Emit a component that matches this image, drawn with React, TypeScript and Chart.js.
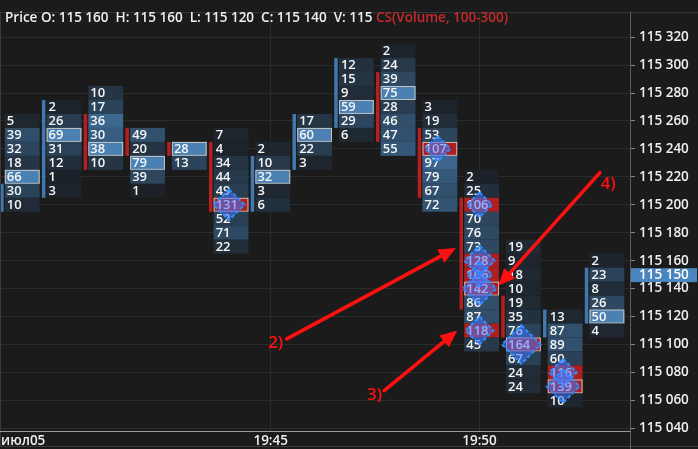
import React, { useEffect, useRef } from 'react';
import { Chart, registerables } from 'chart.js';
Chart.register(...registerables);

// ---------- data ----------
const times = ['19:39', '19:40', '19:41', '19:42', '19:43', '19:44', '19:45', '19:46', '19:47', '19:48', '19:49', '19:50', '19:51', '19:52', '19:53'];
// highest price level of each cluster (rows go down by rowStep)
const topPrices = [115260, 115270, 115280, 115250, 115240, 115250, 115240, 115260, 115300, 115310, 115270, 115220, 115170, 115120, 115160];
const volumes: number[][] = [
  [5, 39, 32, 18, 66, 30, 10],
  [2, 26, 69, 31, 12, 1, 3],
  [10, 17, 36, 30, 38, 10],
  [49, 20, 79, 39, 1],
  [28, 13],
  [7, 4, 34, 44, 49, 131, 52, 71, 22],
  [2, 10, 32, 3, 6],
  [17, 60, 22, 3],
  [12, 15, 9, 59, 29, 6],
  [2, 24, 39, 75, 28, 46, 47, 55],
  [3, 19, 53, 107, 97, 79, 67, 72],
  [2, 25, 106, 70, 76, 73, 128, 106, 142, 86, 87, 118, 45],
  [19, 9, 18, 10, 19, 35, 76, 164, 67, 24, 24],
  [13, 87, 89, 60, 116, 139, 10],
  [2, 23, 8, 26, 50, 4],
];
const opens = [115200, 115210, 115260, 115250, 115240, 115240, 115200, 115230, 115260, 115290, 115250, 115200, 115130, 115110, 115120];
const closes = [115210, 115270, 115230, 115240, 115240, 115200, 115230, 115260, 115300, 115250, 115210, 115130, 115110, 115120, 115150];
const rowStep = 10;
const highlightMin = 100;
const highlightMax = 300;

const priceTicks = [115040, 115060, 115080, 115100, 115120, 115140, 115160, 115180, 115200, 115220, 115240, 115260, 115280, 115300, 115320];
const timeTicks = ['19:45', '19:50'];
const dateLabel = 'июл05';
const lastPrice = 115150;
const viewStart = '19:38:32.5';
const viewEnd = '19:53:36.2';
const priceMin = 115038.1;
const priceMax = 115337.9;

const headerText = 'Price O: 115 160  H: 115 160  L: 115 120  C: 115 140  V: 115 ';
const studyText = 'CS(Volume, 100-300)';

// annotations (time, price)
const arrowLabels = ['2)', '3)', '4)'];
const arrowFromTimes = ['19:45:23', '19:47:43', '19:52:53'];
const arrowFromPrices = [115104, 115067, 115223];
const arrowToTimes = ['19:49:26', '19:49:28', '19:50:27'];
const arrowToPrices = [115169, 115110, 115142];
const labelTimes = ['19:45:18', '19:47:40', '19:52:54'];
const labelPrices = [115101, 115064, 115215];
const labelAligns: CanvasTextAlign[] = ['right', 'right', 'left'];

// ---------- helpers ----------
const toMin = (s: string) => {
  const [h, m, sec] = s.split(':').map(Number);
  return h * 60 + m + (sec || 0) / 60;
};
const fmtPrice = (v: number) => `${Math.floor(v / 1000)} ${String(Math.round(v % 1000)).padStart(3, '0')}`;

const BG = '#1b1b1b';
const FONT = '"Open Sans", "Noto Sans", sans-serif';
const W = '600';
const c0 = [28, 33, 39];
const c1 = [62, 108, 150];
const cellColor = (r: number) => {
  const k = Math.max(0, Math.min(1, r));
  const c = c0.map((a, i) => Math.round(a + (c1[i] - a) * k));
  return `rgb(${c[0]},${c[1]},${c[2]})`;
};

const footprintPlugin = {
  id: 'footprint',
  beforeDraw(chart: any) {
    const { ctx, width, height } = chart;
    ctx.save();
    ctx.fillStyle = BG;
    ctx.fillRect(0, 0, width, height);
    ctx.restore();
  },
  afterDatasetsDraw(chart: any) {
    const { ctx } = chart;
    const xs = chart.scales.x;
    const ys = chart.scales.y;
    ctx.save();
    const diamonds: { x: number; y: number; r: number }[] = [];
    times.forEach((t, ci) => {
      const cx = xs.getPixelForValue(toMin(t));
      const vols = volumes[ci];
      const colMax = Math.max(...vols);
      // candle body
      const o = opens[ci];
      const c = closes[ci];
      const hi = Math.max(o, c) + rowStep / 2;
      const lo = Math.min(o, c) - rowStep / 2;
      const yTop = ys.getPixelForValue(hi);
      const yBot = ys.getPixelForValue(lo);
      ctx.fillStyle = c > o ? '#4178ad' : '#b3201f';
      ctx.fillRect(cx - 20, yTop, 3.5, yBot - yTop);
      // cells
      vols.forEach((v, ri) => {
        const p = topPrices[ci] - ri * rowStep;
        const y0 = ys.getPixelForValue(p + rowStep / 2);
        const y1 = ys.getPixelForValue(p - rowStep / 2);
        const left = cx - 15.3;
        const w = 34.8;
        const isPoc = v === colMax;
        const isHi = v >= highlightMin && v <= highlightMax;
        if (isHi) ctx.fillStyle = '#b01f1f';
        else if (isPoc) ctx.fillStyle = '#4a80b2';
        else ctx.fillStyle = cellColor(v / colMax);
        ctx.fillRect(left, y0, w, y1 - y0);
        if (isPoc) {
          ctx.strokeStyle = '#c4c4c4';
          ctx.lineWidth = 1;
          ctx.strokeRect(left + 0.5, y0 + 0.5, w - 1, y1 - y0 - 1);
        }
        ctx.fillStyle = '#f6f6f6';
        ctx.font = `${W} 13px ${FONT}`;
        ctx.textBaseline = 'middle';
        ctx.textAlign = 'left';
        ctx.fillText(String(v), left + 2, (y0 + y1) / 2 + 0.5);
        if (isHi) diamonds.push({ x: cx, y: ys.getPixelForValue(p), r: v * 0.118 });
      });
    });
    diamonds.forEach((d) => {
      ctx.beginPath();
      ctx.moveTo(d.x, d.y - d.r);
      ctx.lineTo(d.x + d.r, d.y);
      ctx.lineTo(d.x, d.y + d.r);
      ctx.lineTo(d.x - d.r, d.y);
      ctx.closePath();
      ctx.fillStyle = 'rgba(66,118,255,0.55)';
      ctx.fill();
      ctx.setLineDash([4, 2]);
      ctx.lineWidth = 2;
      ctx.strokeStyle = '#2f8cff';
      ctx.stroke();
      ctx.setLineDash([]);
    });
    ctx.restore();
  },
  afterDraw(chart: any) {
    const { ctx, width, height, chartArea } = chart;
    const xs = chart.scales.x;
    const ys = chart.scales.y;
    ctx.save();
    // frame
    ctx.strokeStyle = '#3a3a3a';
    ctx.lineWidth = 1;
    ctx.beginPath();
    ctx.moveTo(0, chartArea.top + 0.5);
    ctx.lineTo(width, chartArea.top + 0.5);
    ctx.moveTo(0, height - 2.5);
    ctx.lineTo(width, height - 2.5);
    ctx.moveTo(0.5, chartArea.top);
    ctx.lineTo(0.5, height - 2);
    ctx.stroke();
    ctx.strokeStyle = '#5e5e5e';
    ctx.beginPath();
    ctx.moveTo(chartArea.right + 0.5, chartArea.top);
    ctx.lineTo(chartArea.right + 0.5, height);
    ctx.stroke();
    ctx.strokeStyle = '#9a9a9a';
    ctx.beginPath();
    ctx.moveTo(0, chartArea.bottom + 0.5);
    ctx.lineTo(chartArea.right, chartArea.bottom + 0.5);
    ctx.stroke();

    // header
    ctx.font = `${W} 13.5px ${FONT}`;
    ctx.textBaseline = 'middle';
    ctx.textAlign = 'left';
    ctx.fillStyle = '#f0f0f0';
    ctx.fillText(headerText, 5, 18);
    const hw = ctx.measureText(headerText).width;
    ctx.fillStyle = '#c62a2a';
    ctx.fillText(studyText, 5 + hw, 18);

    // date label
    ctx.fillStyle = '#f0f0f0';
    ctx.fillText(dateLabel, 1, 441);

    // last price label
    const ly = ys.getPixelForValue(lastPrice);
    ctx.fillStyle = '#4a86be';
    ctx.fillRect(chartArea.right + 1, ly - 6.5, width - chartArea.right - 2, 14);
    ctx.fillStyle = '#ffffff';
    ctx.fillText(fmtPrice(lastPrice), chartArea.right + 9, ly + 0.5);

    // arrows
    ctx.strokeStyle = '#ff1010';
    ctx.fillStyle = '#ff1010';
    ctx.lineWidth = 3.6;
    ctx.lineCap = 'round';
    arrowLabels.forEach((lab, i) => {
      const x0 = xs.getPixelForValue(toMin(arrowFromTimes[i]));
      const y0 = ys.getPixelForValue(arrowFromPrices[i]);
      const x1 = xs.getPixelForValue(toMin(arrowToTimes[i]));
      const y1 = ys.getPixelForValue(arrowToPrices[i]);
      const ang = Math.atan2(y1 - y0, x1 - x0);
      const hl = 17;
      const hw2 = 7.5;
      const bx = x1 - hl * Math.cos(ang);
      const by = y1 - hl * Math.sin(ang);
      ctx.beginPath();
      ctx.moveTo(x0, y0);
      ctx.lineTo(bx + 2 * Math.cos(ang), by + 2 * Math.sin(ang));
      ctx.stroke();
      ctx.beginPath();
      ctx.moveTo(x1, y1);
      ctx.lineTo(bx + hw2 * Math.sin(ang), by - hw2 * Math.cos(ang));
      ctx.lineTo(bx - hw2 * Math.sin(ang), by + hw2 * Math.cos(ang));
      ctx.closePath();
      ctx.fill();
      ctx.font = `${W} 17px ${FONT}`;
      ctx.textAlign = labelAligns[i];
      ctx.textBaseline = 'middle';
      ctx.fillText(lab, xs.getPixelForValue(toMin(labelTimes[i])), ys.getPixelForValue(labelPrices[i]));
    });
    ctx.restore();
  },
};

export default function App() {
  const ref = useRef<HTMLCanvasElement | null>(null);
  useEffect(() => {
    document.body.style.margin = '0';
    document.body.style.background = BG;
    const canvas = ref.current;
    if (!canvas) return;
    const chart = new Chart(canvas, {
      type: 'scatter',
      data: {
        datasets: [
          {
            label: 'close',
            data: times.map((t, i) => ({ x: toMin(t), y: closes[i] })),
            pointRadius: 0,
            showLine: false,
          },
        ],
      },
      options: {
        responsive: false,
        animation: false,
        events: [],
        layout: { padding: { top: 8, left: 1, right: 0, bottom: 0 } },
        plugins: { legend: { display: false }, tooltip: { enabled: false }, title: { display: false } },
        scales: {
          x: {
            type: 'linear',
            position: 'bottom',
            min: toMin(viewStart),
            max: toMin(viewEnd),
            afterFit: (s: any) => {
              s.height = 18;
            },
            afterBuildTicks: (s: any) => {
              s.ticks = timeTicks.map((t) => ({ value: toMin(t) }));
            },
            grid: { color: '#2c2c2c', drawTicks: false, lineWidth: 1 },
            border: { display: false },
            ticks: {
              color: '#f0f0f0',
              padding: 2,
              maxRotation: 0,
              autoSkip: false,
              font: { family: FONT, size: 13.5, weight: W },
              callback: (v: any) => {
                const i = timeTicks.findIndex((t) => Math.abs(toMin(t) - Number(v)) < 1e-6);
                return i >= 0 ? timeTicks[i] : '';
              },
            },
          },
          y: {
            type: 'linear',
            position: 'right',
            min: priceMin,
            max: priceMax,
            afterFit: (s: any) => {
              s.width = 68;
            },
            afterBuildTicks: (s: any) => {
              s.ticks = priceTicks.map((v) => ({ value: v }));
            },
            grid: { color: '#2c2c2c', tickColor: '#8a8a8a', tickLength: 5, lineWidth: 1 },
            border: { display: false },
            ticks: {
              color: '#f0f0f0',
              padding: 4,
              autoSkip: false,
              font: { family: FONT, size: 13.5, weight: W },
              callback: (v: any) => fmtPrice(Number(v)),
            },
          },
        },
      },
      plugins: [footprintPlugin],
    });
    return () => chart.destroy();
  }, []);
  return (
    <div style={{ position: 'absolute', left: 0, top: 0, width: 698, height: 449, background: BG }}>
      <canvas ref={ref} width={698} height={449} style={{ display: 'block' }} />
    </div>
  );
}
